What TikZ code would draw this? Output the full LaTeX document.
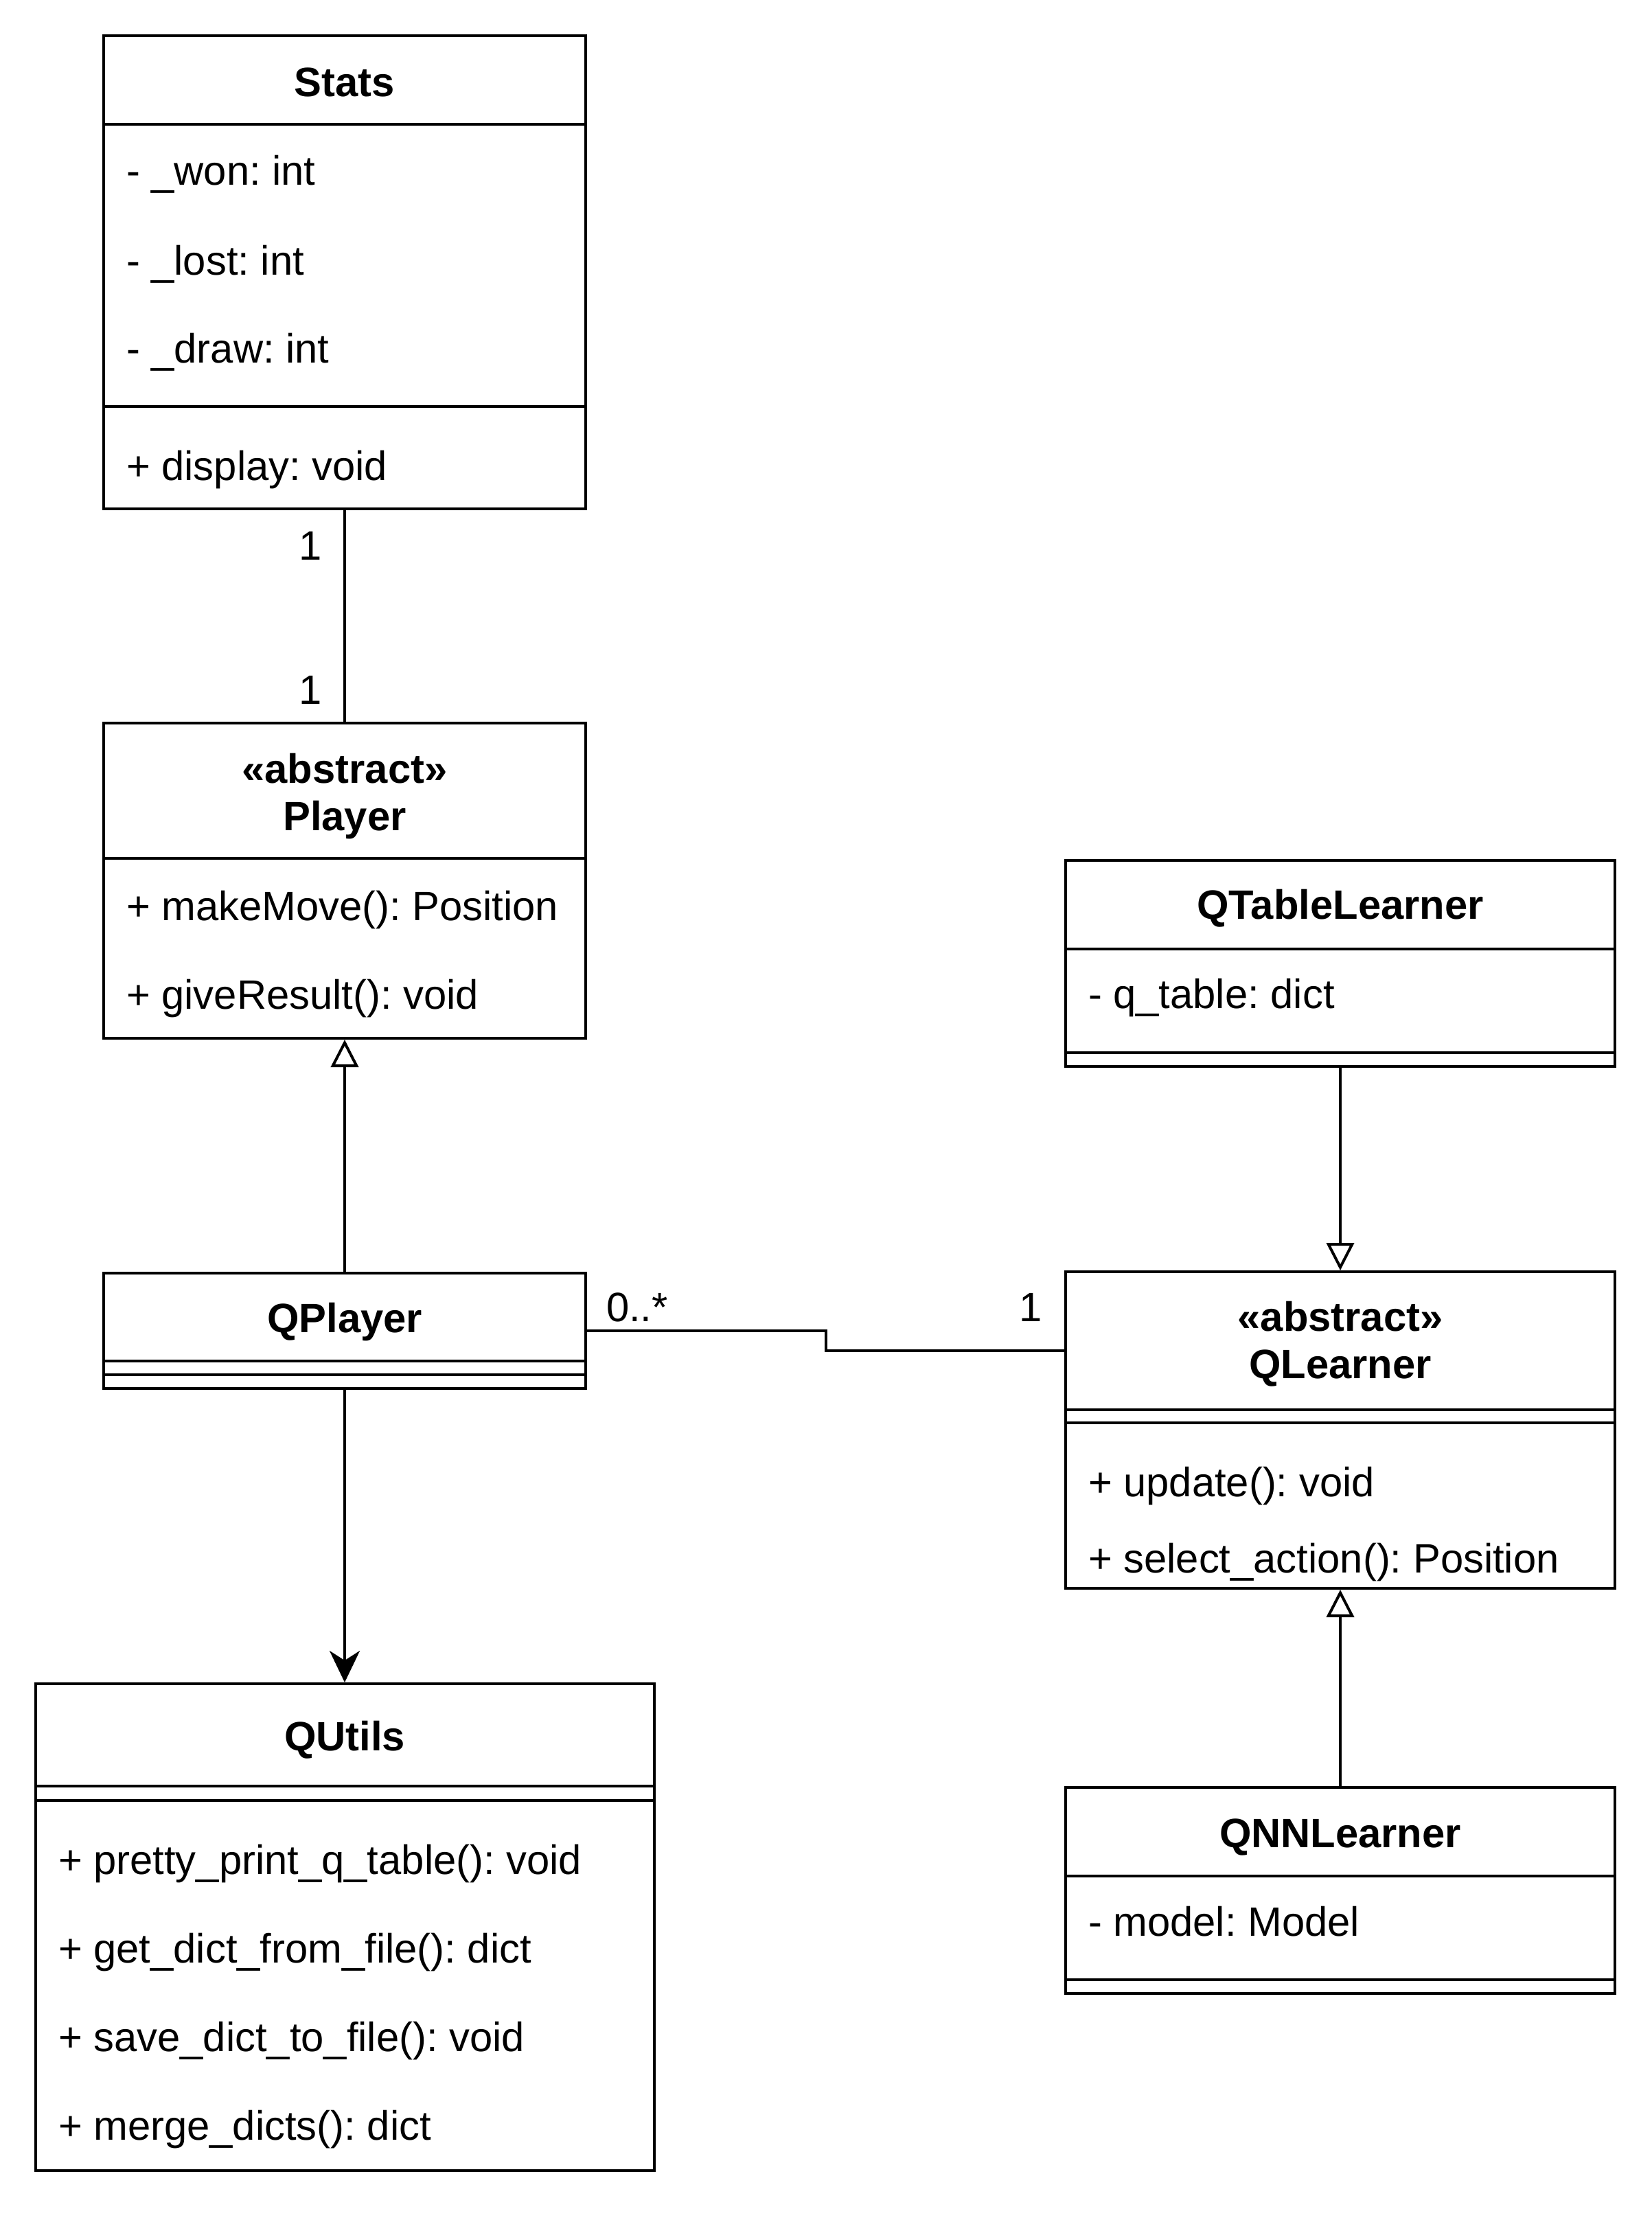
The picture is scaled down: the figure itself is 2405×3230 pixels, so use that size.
\documentclass[tikz,border=0pt]{standalone}
\usepackage{fontspec}
\setmainfont{Liberation Sans}
\usetikzlibrary{arrows.meta}
\frenchspacing

\newcommand{\umlsize}{\fontsize{17}{20}\selectfont}

\tikzset{
	classbox/.style={draw, rectangle, inner sep=0pt},
	classname/.style={anchor=base, inner sep=0pt, font=\umlsize\bfseries},
	member/.style={anchor=base west, inner sep=0pt},
	mult/.style={inner sep=0pt},
	inherit/.style={-{Triangle[open, length=4mm, width=4mm]}},
	uses/.style={-{Stealth[length=4.6mm, width=4.4mm, inset=1.4mm]}},
}

\begin{document}
\begin{tikzpicture}[x=0.1mm, y=-0.1mm, line width=0.4mm, font=\umlsize]

	\useasboundingbox (0,0) rectangle (2405,3230);

	% ---- class boxes

	\node[classbox, minimum width=70.2mm, minimum height=68.9mm] (stats) at (502,396.5) {};
	\node[classbox, minimum width=70.2mm, minimum height=45.9mm] (player) at (502,1282.5) {};
	\node[classbox, minimum width=70.2mm, minimum height=16.8mm] (qplayer) at (502,1938) {};
	\node[classbox, minimum width=90.1mm, minimum height=70.9mm] (qutils) at (502,2806.5) {};
	\node[classbox, minimum width=80mm, minimum height=30mm] (qtable) at (1952,1403) {};
	\node[classbox, minimum width=80mm, minimum height=46.1mm] (qlearner) at (1952,2082.5) {};
	\node[classbox, minimum width=80mm, minimum height=30mm] (qnn) at (1952,2753) {};

	% ---- compartment lines

	\foreach \xa/\xb/\y in {151/853/181, 151/853/592, 151/853/1250, 151/853/1982, 151/853/2002,
		51.5/952.5/2601, 51.5/952.5/2622,
		1552/2352/1382, 1552/2352/1533, 1552/2352/2053, 1552/2352/2072,
		1552/2352/2732, 1552/2352/2883} {
		\draw (\xa,\y) -- (\xb,\y);
	}

	% ---- Stats

	\node[classname] (statsname) at (502,140) {Stats};
	\node[member] (won) at (182,269) {- \_won: int};
	\node[member] (lost) at (182,400) {- \_lost: int};
	\node[member] (drawn) at (182,528) {- \_draw: int};
	\node[member] (display) at (182,699) {+ display: void};

	% ---- Player

	\node[classname] (playerstereo) at (502,1140) {«abstract»};
	\node[classname] (playername) at (502,1209) {Player};
	\node[member] (makemove) at (182,1340) {+ makeMove(): Position};
	\node[member] (giveresult) at (182,1469) {+ giveResult(): void};

	% ---- QPlayer

	\node[classname] (qplayername) at (502,1940) {QPlayer};

	% ---- QUtils

	\node[classname] (qutilsname) at (502,2549) {QUtils};
	\node[member] (prettyprint) at (83,2729) {+ pretty\_print\_q\_table(): void};
	\node[member] (getdict) at (83,2858) {+ get\_dict\_from\_file(): dict};
	\node[member] (savedict) at (83,2987) {+ save\_dict\_to\_file(): void};
	\node[member] (mergedicts) at (83,3116) {+ merge\_dicts(): dict};

	% ---- QTableLearner

	\node[classname] (qtablename) at (1952,1338) {QTableLearner};
	\node[member] (qtableattr) at (1583,1468) {- q\_table: dict};

	% ---- QLearner

	\node[classname] (qlearnerstereo) at (1952,1938) {«abstract»};
	\node[classname] (qlearnername) at (1952,2007) {QLearner};
	\node[member] (update) at (1583,2179) {+ update(): void};
	\node[member] (selectaction) at (1583,2290) {+ select\_action(): Position};

	% ---- QNNLearner

	\node[classname] (qnnname) at (1952,2690) {QNNLearner};
	\node[member] (model) at (1583,2819) {- model: Model};

	% ---- relations

	\draw (stats) -- (player);
	\draw[inherit] (qplayer) -- (player);
	\draw[uses] (qplayer) -- (qutils);
	\draw[inherit] (qtable) -- (qlearner);
	\draw[inherit] (qnn) -- (qlearner);

	\coordinate (bend) at (1203,1967);
	\draw (qplayer.east) -| (bend) -- (qlearner.west |- bend);

	% ---- multiplicities

	\node[mult, anchor=base east] (statsmult) at (471,815) {1};
	\node[mult, anchor=base east] (playermult) at (471,1025) {1};
	\node[mult, anchor=base west] (qplayermult) at (881,1924) {0..*};
	\node[mult, anchor=base east] (qlearnermult) at (1520,1924) {1};

\end{tikzpicture}
\end{document}
